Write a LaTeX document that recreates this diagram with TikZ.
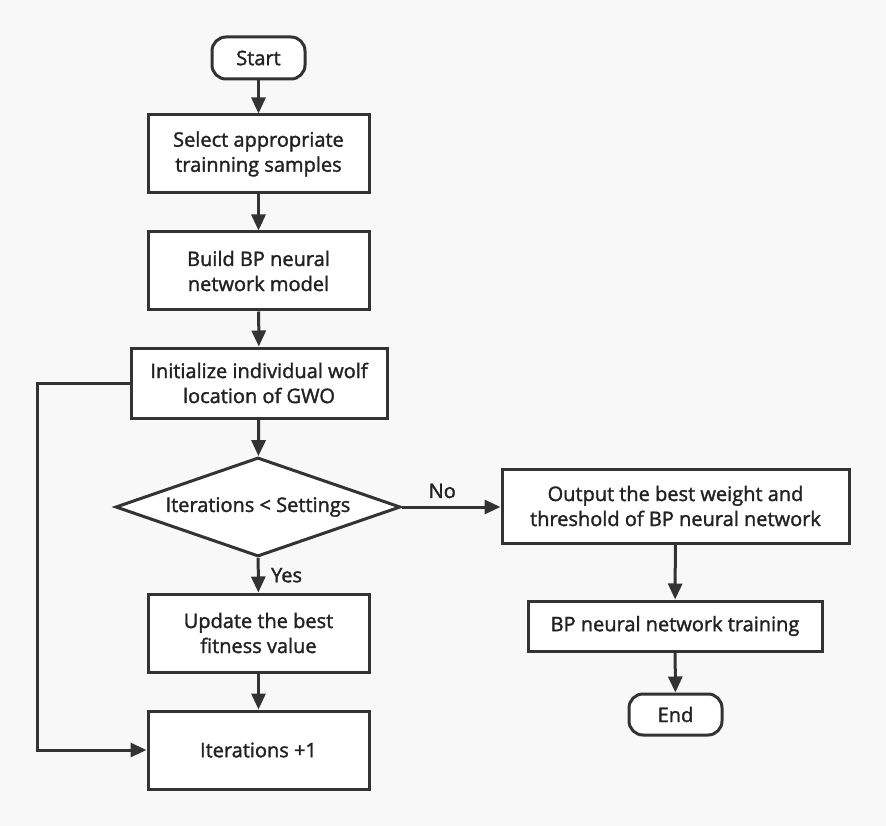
\documentclass[tikz,border=0pt]{standalone}
\usepackage{fontspec}
\setmainfont{Open Sans}
\newfontfamily\medfont{Open Sans}[FakeBold=1.6]
\usetikzlibrary{arrows.meta,shapes.geometric}
\definecolor{bg}{HTML}{F8F8F8}
\definecolor{ink}{HTML}{333333}
\definecolor{txt}{HTML}{222222}
\tikzset{
  base/.style={draw=ink, line width=3pt, fill=white, text=txt, align=center,
    font=\medfont\fontsize{20}{25}\selectfont, inner sep=0pt},
  boxnode/.style={base, rectangle, minimum width=221pt, minimum height=78pt},
  termnode/.style={base, rectangle, rounded corners=14pt, minimum width=93pt, minimum height=42pt},
  decnode/.style={base, diamond, aspect=2.9, minimum width=285pt, minimum height=99pt},
  conn/.style={draw=ink, line width=3pt, -{Triangle[length=16pt,width=14pt]}},
  lab/.style={text=txt, font=\medfont\fontsize{20}{22}\selectfont}
}
\begin{document}
\begin{tikzpicture}[x=1pt,y=-1pt]
\fill[bg] (0,0) rectangle (886,826);
\useasboundingbox (0,0) rectangle (886,826);
\node[termnode] (start) at (258.5,58) {Start};
\node[boxnode] (select) at (258.5,154) {Select appropriate\\trainning samples};
\node[boxnode] (build) at (258.5,271) {Build BP neural\\network model};
\node[boxnode, minimum width=256pt, minimum height=70pt] (init) at (259,383) {Initialize individual wolf\\location of GWO};
\node[decnode] (dec) at (258,507) {Iterations {<} Settings};
\node[boxnode] (update) at (258.5,633) {Update the best\\fitness value};
\node[boxnode] (iter) at (258.5,750) {Iterations +1};
\node[boxnode, minimum width=347pt, minimum height=74pt] (out) at (675.5,506) {Output the best weight and\\threshold of BP neural network};
\node[boxnode, minimum width=294pt, minimum height=50pt] (bp) at (675,626) {BP neural network training};
\node[termnode, minimum height=41pt] (end) at (675.5,714.5) {End};
\coordinate (loop) at (37,383);
\draw[conn] (start) -- (select);
\draw[conn] (select) -- (build);
\draw[conn] (build) -- (init);
\draw[conn] (init) -- (dec);
\draw[conn] (dec) -- node[lab, right, xshift=8pt] {Yes} (update);
\draw[conn] (dec.east) -- node[lab, above, yshift=4pt, xshift=-9pt] {No} (dec.east -| out.west);
\draw[conn] (out) -- (bp);
\draw[conn] (bp) -- (end);
\draw[conn] (update) -- (iter);
\draw[conn] (init.west) -- (loop) |- (iter.west);
\end{tikzpicture}
\end{document}
